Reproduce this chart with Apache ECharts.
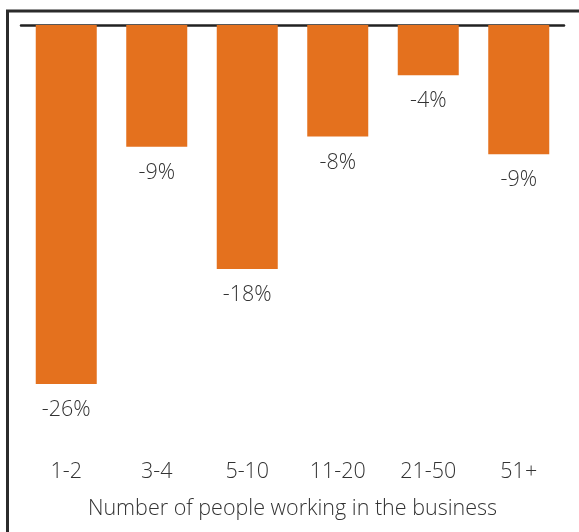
<!DOCTYPE html>
<html>
<head>
<meta charset="utf-8">
<style>
  html, body { margin: 0; padding: 0; background: #fff; }
  #chart { width: 579px; height: 532px; }
</style>
<script src="https://cdn.jsdelivr.net/npm/echarts@6/dist/echarts.min.js"></script>
</head>
<body>
<div id="chart"></div>
<script>
// Change by business size (percent)
const categories = ['1-2', '3-4', '5-10', '11-20', '21-50', '51+'];
const changes = [-26.1, -8.85, -17.75, -8.1, -3.65, -9.4];
const axisTitle = 'Number of people working in the business';

const FONT = '"Open Sans", "Liberation Sans", sans-serif';
const TEXT = '#333333';
const SIZE = 21.5;

const chart = echarts.init(document.getElementById('chart'), null, { renderer: 'canvas' });
chart.setOption({
  animation: false,
  backgroundColor: '#ffffff',
  grid: { left: 21, right: 15, top: 25, bottom: 94.5 },
  graphic: [{
    type: 'rect',
    shape: { x: 7.5, y: 11, width: 620, height: 620 },
    style: { fill: 'none', stroke: '#2b2b2b', lineWidth: 3 },
    silent: true
  }],
  xAxis: [{
    type: 'category',
    data: categories,
    position: 'bottom',
    axisLine: { show: false, onZero: false },
    axisTick: { show: false },
    axisLabel: { margin: 23, fontSize: SIZE, fontFamily: FONT, fontWeight: 300, color: TEXT },
    name: axisTitle,
    nameLocation: 'middle',
    nameGap: 60,
    nameTextStyle: { fontSize: SIZE, fontFamily: FONT, fontWeight: 300, color: TEXT }
  }, {
    type: 'category',
    data: categories,
    position: 'top',
    axisLine: { show: true, onZero: false, lineStyle: { color: '#222222', width: 2.5 } },
    axisTick: { show: false },
    axisLabel: { show: false }
  }],
  yAxis: {
    type: 'value',
    min: -30,
    max: 0,
    show: false
  },
  series: [{
    type: 'bar',
    data: changes,
    barWidth: 61,
    itemStyle: { color: '#E4711E' },
    label: {
      show: true,
      position: 'bottom',
      distance: 15,
      fontSize: SIZE,
      fontFamily: FONT,
      fontWeight: 300,
      color: TEXT,
      formatter: p => Math.round(p.value) + '%'
    }
  }]
});
</script>
</body>
</html>
